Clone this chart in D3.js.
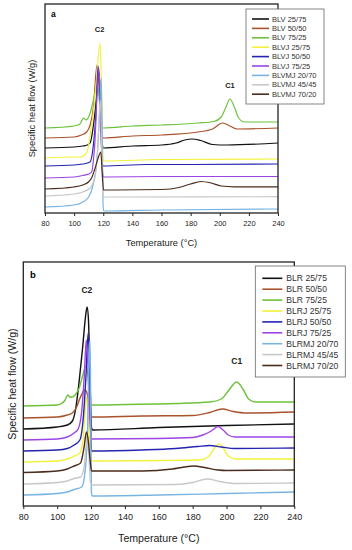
<!DOCTYPE html>
<html>
<head>
<meta charset="utf-8">
<script src="https://cdn.jsdelivr.net/npm/d3@7"></script>
<style>
  body { margin: 0; background: #fff; }
  svg { font-family: "Liberation Sans", Arial, sans-serif; }
</style>
</head>
<body>
<div id="chart"></div>
<script>
// DSC curves, two panels. x = temperature (°C), y = heat flow (arbitrary offset units)

var tempTicks = [80, 100, 120, 140, 160, 180, 200, 220, 240];
var seriesColors = ["#111111", "#a9522c", "#6cc23a", "#f2f23a", "#2424b0", "#9b45e6", "#78b4e2", "#c8c8c8", "#4b2b1c"];

// ---- panel a
var namesA = ["BLV 25/75", "BLV 50/50", "BLV 75/25", "BLVJ 25/75", "BLVJ 50/50", "BLVJ 75/25", "BLVMJ 20/70", "BLVMJ 45/45", "BLVMJ 70/20"];

var blv2575 = [[80,6.5],[100,6.6],[106,6.7],[109,6.8],[111,7.0],[113,8.5],[115,11],[117,14.1],[118.3,11],[119.3,7],[120,6.5],
  [140,6.7],[160,6.8],[170,7.0],[176,7.3],[181,7.4],[187,7.25],[195,6.85],[205,6.8],[240,7.0]];
var blv5050 = [[80,7.5],[100,7.6],[105,7.8],[108.6,8.1],[111,8.8],[113.2,10.5],[115.7,14.8],[117,13],[118.5,9],[119.5,7.6],[120.3,7.5],
  [140,7.7],[160,7.8],[185,8.1],[195,8.4],[202,9.0],[207,8.7],[212,8.4],[240,8.5]];
var blv7525 = [[80,8.5],[100,8.7],[104,8.9],[106.5,9.5],[108,9.3],[110,9.6],[112,10.5],[114,11.8],[116,12.8],[117.5,11],[118.8,9],[120,8.5],
  [140,8.7],[160,8.8],[185,9.0],[196,9.15],[201,9.6],[204,10.5],[207,11.4],[210,10.6],[213,9.5],[217,9.1],[240,9.1]];
var blvj2575 = [[80,5.5],[100,5.6],[104,5.6],[108,5.9],[110,6.8],[111,7.8],[113,9.8],[115.5,13.5],[117.8,17.0],[118.8,12.5],[119.5,7],[120.2,5.2],
  [160,5.35],[240,5.4]];
var blvj5050 = [[80,4.7],[100,4.8],[106,4.9],[110.9,5.1],[113,6.5],[115,10],[116.5,14.7],[117.8,11],[119,6],[120,4.7],
  [150,4.85],[180,4.85],[240,4.9]];
var blvj7525 = [[80,3.5],[100,3.6],[106,3.75],[110,3.9],[112,4.1],[114,6.5],[117,14.5],[118.2,10],[119.2,5],[120,3.6],
  [160,3.65],[240,3.65]];
var blvmj2070 = [[80,0.6],[100,0.8],[106,1.1],[110,1.6],[113,2.8],[115.5,5],[117.5,10],[118.6,13.5],[119.3,8],[119.8,1],[120.3,0.2],
  [160,0.3],[240,0.4]];
var blvmj4545 = [[80,1.7],[100,1.9],[106,2.1],[111,2.5],[114,3.5],[116,6],[118,11.3],[119,6],[119.8,1.8],[120.3,1.6],
  [240,1.63]];
var blvmj7020 = [[80,2.4],[100,2.6],[106,2.8],[109.8,3.1],[112,3.5],[114,4.3],[116.5,5.5],[118.3,6.1],[119.3,4],[120.2,2.3],
  [160,2.35],[172,2.55],[180,2.9],[187,3.15],[194,3.0],[201,2.7],[210,2.62],[240,2.62]];
var curvesA = [blv2575, blv5050, blv7525, blvj2575, blvj5050, blvj7525, blvmj2070, blvmj4545, blvmj7020];

// ---- panel b
var namesB = ["BLR 25/75", "BLR 50/50", "BLR 75/25", "BLRJ 25/75", "BLRJ 50/50", "BLRJ 75/25", "BLRMJ 20/70", "BLRMJ 45/45", "BLRMJ 70/20"];

var blr2575 = [[80,7.7],[100,7.9],[106,8.1],[109,8.5],[111,9.8],[113,12.5],[115,15.8],[117,19.3],[117.7,19.9],[118.5,18.5],[119.5,12],[120.3,7.8],[121,7.6],
  [160,7.85],[200,8.05],[240,8.2]];
var blr5050 = [[80,8.8],[100,8.9],[106,9.1],[109,9.3],[111.5,9.9],[113.5,10.8],[116.5,11.6],[118,11],[119.3,9.5],[120.3,8.9],
  [150,9.0],[180,9.05],[190,9.35],[197.5,9.7],[204,9.45],[212,9.3],[240,9.4]];
var blr7525 = [[80,10.0],[100,10.1],[103,10.3],[104.7,10.6],[106.3,11.1],[107.5,10.9],[109,10.9],[111,11.2],[113,11.8],[115,13],[117,14.0],[118.2,13],[119.3,10.5],[120.2,10.1],
  [140,10.15],[170,10.25],[190,10.4],[197,10.7],[201,11.5],[206,12.4],[210,11.6],[213,10.7],[217,10.4],[240,10.4]];
var blrj2575 = [[80,4.4],[100,4.5],[106,4.7],[110,5.0],[113.4,5.3],[115.5,7],[117.2,10.9],[118.3,9],[119.3,6],[120.2,4.5],
  [160,4.55],[184,4.6],[189,4.9],[193,5.8],[195.6,6.2],[198,5.8],[201,5.0],[206,4.7],[240,4.7]];
var blrj5050 = [[80,5.5],[100,5.6],[106,5.75],[110,6.1],[113.4,6.6],[115.5,9],[117,13],[118.3,17.3],[119.2,13],[119.8,8],[120.3,5.5],
  [150,5.6],[170,5.75],[183,5.95],[190,6.05],[197,5.9],[205,5.75],[240,5.8]];
var blrj7525 = [[80,6.6],[100,6.7],[106,6.9],[110,7.3],[112.4,7.7],[114.5,9.5],[116,13],[117.2,16.6],[118.2,14],[119.2,9],[120.2,6.7],
  [160,6.75],[180,6.85],[186,7.1],[191,7.5],[195,7.95],[198,7.6],[201,7.1],[205,6.9],[240,6.9]];
var blrmj2070 = [[80,1.1],[100,1.25],[106,1.4],[110,1.65],[114.5,1.9],[116.5,3.5],[118,8],[119,16],[119.4,16.5],[119.8,10],[120.2,1.5],[120.6,1.0],
  [160,1.1],[200,1.25],[240,1.4]];
var blrmj4545 = [[80,2.2],[100,2.35],[106,2.5],[110,2.75],[113.8,2.9],[116,4],[117.8,7.0],[118.8,5],[119.6,2.5],[120.3,2.1],
  [170,2.15],[180,2.35],[188.7,2.7],[196,2.45],[205,2.25],[240,2.3]];
var blrmj7020 = [[80,3.35],[100,3.5],[106,3.7],[110,4.0],[113.8,4.3],[115.8,5.8],[117.3,7.4],[118.4,6.5],[119.5,4.5],[120.3,3.5],
  [150,3.5],[168,3.7],[175,3.9],[180.7,4.0],[187,3.85],[195,3.6],[200,3.55],[240,3.6]];
var curvesB = [blr2575, blr5050, blr7525, blrj2575, blrj5050, blrj7525, blrmj2070, blrmj4545, blrmj7020];

var svg = d3.select("#chart").append("svg")
  .attr("width", 352)
  .attr("height", 550);

function panel(opt) {
  var x = d3.scaleLinear().domain([80, 240]).range([opt.left, opt.right]);
  var y = d3.scaleLinear().domain([0, opt.ymax]).range([opt.bottom, opt.top]);
  var g = svg.append("g");

  var line = d3.line()
    .x(function(d) { return x(d[0]); })
    .y(function(d) { return y(d[1]); })
    .curve(d3.curveMonotoneX);

  g.selectAll(".curve")
    .data(opt.curves)
    .enter().append("path")
      .attr("class", "curve")
      .attr("d", line)
      .attr("fill", "none")
      .attr("stroke", function(d, i) { return seriesColors[i]; })
      .attr("stroke-width", opt.lw)
      .attr("stroke-linejoin", "round");

  // frame
  g.append("rect")
    .attr("x", opt.left).attr("y", opt.top)
    .attr("width", opt.right - opt.left).attr("height", opt.bottom - opt.top)
    .attr("fill", "none").attr("stroke", "#222").attr("stroke-width", 1.3);

  // x axis
  var ax = g.append("g")
    .attr("transform", "translate(0," + opt.bottom + ")")
    .call(d3.axisBottom(x).tickValues(tempTicks).tickSize(3).tickPadding(opt.tickPad).tickSizeOuter(0));
  ax.select(".domain").remove();
  ax.selectAll("line").attr("stroke", "#222");
  ax.selectAll("text").style("font-size", opt.tickFont + "px").attr("fill", "#222");

  g.append("text")
    .attr("x", (opt.left + opt.right) / 2)
    .attr("y", opt.xTitleY)
    .attr("text-anchor", "middle")
    .style("font-size", opt.titleFont + "px")
    .attr("fill", "#222")
    .text("Temperature (°C)");

  g.append("text")
    .attr("transform", "translate(" + opt.yTitleX + "," + ((opt.top + opt.bottom) / 2) + ") rotate(-90)")
    .attr("text-anchor", "middle")
    .style("font-size", opt.titleFont + "px")
    .attr("fill", "#222")
    .text("Specific heat flow (W/g)");

  // panel letter and peak labels
  g.append("text").attr("x", opt.letter[0]).attr("y", opt.letter[1])
    .style("font-size", opt.letterFont + "px").style("font-weight", "bold").text(opt.name);
  g.append("text").attr("x", x(opt.c2[0])).attr("y", opt.c2[1]).attr("text-anchor", "middle")
    .style("font-size", opt.peakFont + "px").style("font-weight", "bold").attr("fill", "#222").text("C2");
  g.append("text").attr("x", x(opt.c1[0])).attr("y", opt.c1[1]).attr("text-anchor", "middle")
    .style("font-size", opt.peakFont + "px").style("font-weight", "bold").attr("fill", "#222").text("C1");

  // legend
  var lg = opt.legend;
  g.append("rect")
    .attr("x", lg.x).attr("y", lg.y).attr("width", lg.w).attr("height", lg.h)
    .attr("fill", "#fff").attr("stroke", "#666").attr("stroke-width", 0.8);
  var items = g.selectAll(".leg")
    .data(opt.names)
    .enter().append("g")
      .attr("transform", function(d, i) { return "translate(" + lg.x + "," + (lg.y + lg.first + i * lg.step) + ")"; });
  items.append("line")
    .attr("x1", lg.l1).attr("x2", lg.l2)
    .attr("stroke", function(d, i) { return seriesColors[i]; })
    .attr("stroke-width", 1.6);
  items.append("text")
    .attr("x", lg.tx).attr("dy", "0.35em")
    .style("font-size", lg.font + "px")
    .attr("fill", "#333")
    .text(function(d) { return d; });
}

panel({
  name: "a", curves: curvesA, names: namesA,
  left: 45, right: 278, top: 4, bottom: 213, ymax: 20.9, lw: 1.2,
  tickFont: 7.5, tickPad: 5, titleFont: 9.3, xTitleY: 245.5, yTitleX: 35,
  letter: [51, 17], letterFont: 8.5, peakFont: 7.5, c2: [117.5, 32], c1: [207, 88],
  legend: { x: 246, y: 9, w: 78, h: 95, first: 10, step: 9.4, l1: 6, l2: 23, tx: 26, font: 7.5 }
});

panel({
  name: "b", curves: curvesB, names: namesB,
  left: 23.3, right: 294.3, top: 262, bottom: 506, ymax: 24.4, lw: 1.4,
  tickFont: 9, tickPad: 5, titleFont: 10.6, xTitleY: 542, yTitleX: 16,
  letter: [30, 278], letterFont: 9.5, peakFont: 8.5, c2: [117.5, 293], c1: [206, 364],
  legend: { x: 255.3, y: 266, w: 90, h: 111, first: 12.3, step: 10.9, l1: 7, l2: 27, tx: 31, font: 8.6 }
});
</script>
</body>
</html>
